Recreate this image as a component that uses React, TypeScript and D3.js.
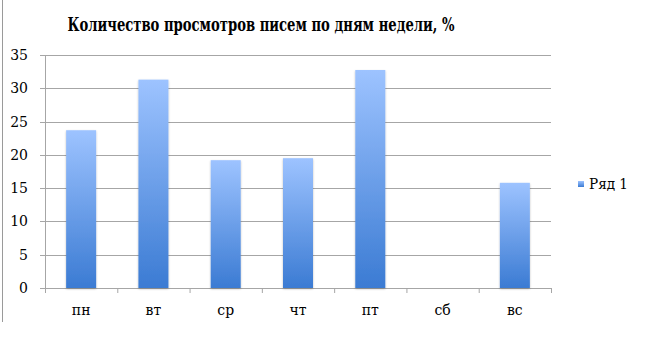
import React from "react";
import * as d3 from "d3";

const categories = ["пн", "вт", "ср", "чт", "пт", "сб", "вс"];
const values = [23.7, 31.3, 19.2, 19.5, 32.75, 0, 15.8];
const yTicks = [0, 5, 10, 15, 20, 25, 30, 35];
const seriesName = "Ряд 1";
const title = "Количество просмотров писем по дням недели, %";

export default function App() {
  const W = 645, H = 351;
  const left = 45, right = 551, top = 55, bottom = 288;
  const x = d3.scaleBand<string>().domain(categories).range([left, right]).paddingInner(0.585).paddingOuter(0.2925);
  const y = d3.scaleLinear().domain([0, 35]).range([bottom, top]);
  const step = (right - left) / categories.length;
  const font = "DejaVu Serif";
  return (
    <svg width={W} height={H} style={{ position: "absolute", left: 0, top: 0, background: "#fff" }}>
      <defs>
        <linearGradient id="barGrad" x1="0" y1="0" x2="0" y2="1">
          <stop offset="0%" stopColor="#9DC3FF" />
          <stop offset="100%" stopColor="#3B7BD3" />
        </linearGradient>
        <filter id="shadow" x="-20%" y="-5%" width="140%" height="110%">
          <feGaussianBlur in="SourceAlpha" stdDeviation="1.2" />
          <feOffset dx="0" dy="1" result="b" />
          <feComponentTransfer><feFuncA type="linear" slope="0.25" /></feComponentTransfer>
          <feMerge><feMergeNode /><feMergeNode in="SourceGraphic" /></feMerge>
        </filter>
      </defs>
      <line x1={2.5} x2={2.5} y1={0} y2={322} stroke="#9a9a9a" strokeWidth={1} />
      <text x={261} y={31} textAnchor="middle" fontFamily={font} fontWeight="bold" fontSize={18} textLength={387} lengthAdjust="spacingAndGlyphs">{title}</text>
      {yTicks.map((t) => (
        <g key={t}>
          <line x1={left - 5} x2={right} y1={Math.round(y(t)) + 0.5} y2={Math.round(y(t)) + 0.5} stroke="#a6a6a6" strokeWidth={1} />
          <text x={28} y={y(t) + 5} textAnchor="end" fontFamily={font} fontSize={14}>{t}</text>
        </g>
      ))}
      <line x1={left + 0.5} x2={left + 0.5} y1={top} y2={bottom} stroke="#a6a6a6" />
      {categories.map((c, i) => (
        <line key={"t" + c} x1={left + step * (i + 1) + 0.5} x2={left + step * (i + 1) + 0.5} y1={bottom} y2={bottom + 5} stroke="#a6a6a6" />
      ))}
      <line x1={left + 0.5} x2={left + 0.5} y1={bottom} y2={bottom + 5} stroke="#a6a6a6" />
      {categories.map((c, i) => (
        values[i] > 0 ? (
          <rect key={"b" + c} x={x(c)} y={y(values[i])} width={x.bandwidth()} height={bottom - y(values[i])} fill="url(#barGrad)" filter="url(#shadow)" />
        ) : null
      ))}
      {categories.map((c) => (
        <text key={"l" + c} x={(x(c) as number) + x.bandwidth() / 2} y={315} textAnchor="middle" fontFamily={font} fontSize={14}>{c}</text>
      ))}
      <rect x={578} y={181} width={6} height={6} fill="url(#barGrad)" />
      <text x={589} y={189} fontFamily={font} fontSize={14} textLength={39} lengthAdjust="spacingAndGlyphs">{seriesName}</text>
    </svg>
  );
}
